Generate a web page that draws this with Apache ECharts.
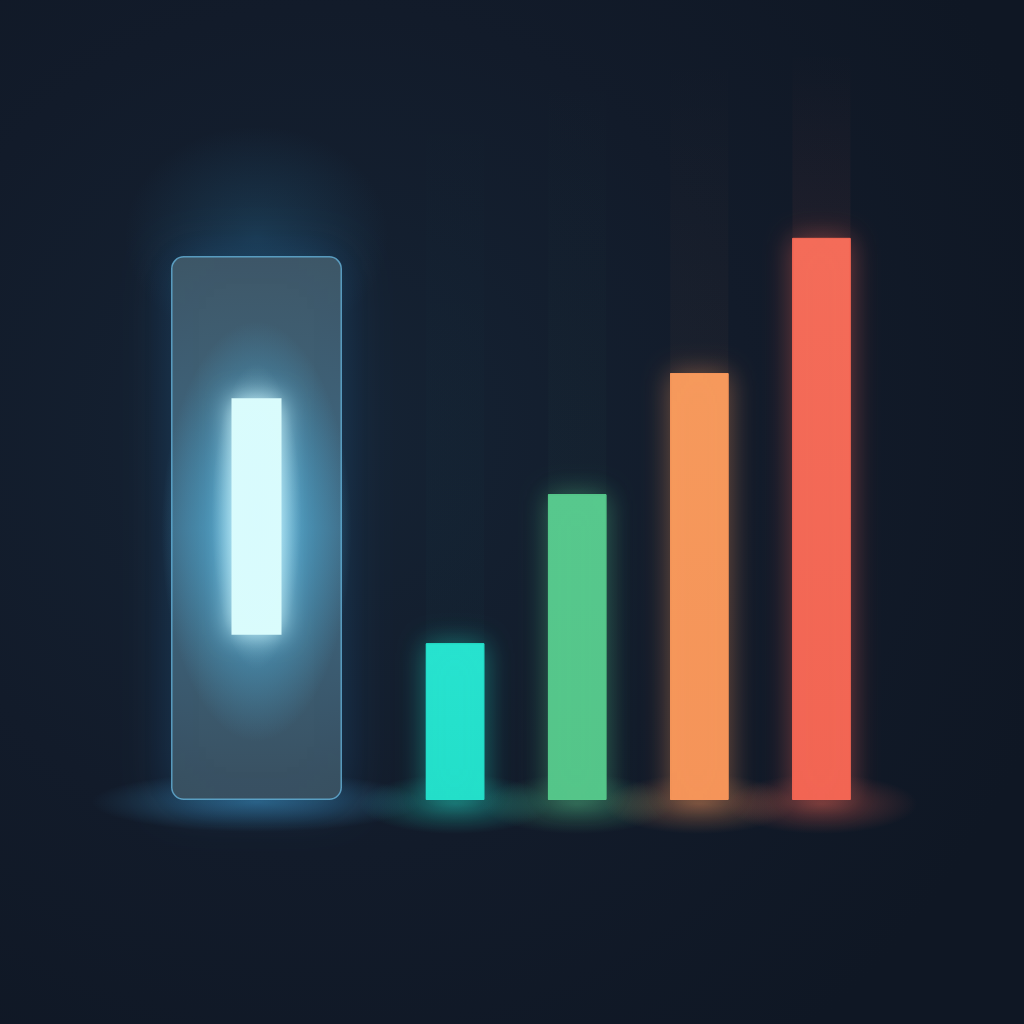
<!DOCTYPE html>
<html>
<head>
<meta charset="utf-8">
<title>glow bars</title>
<script src="https://cdn.jsdelivr.net/npm/echarts@6/dist/echarts.min.js"></script>
<style>
  html, body { margin: 0; padding: 0; background: #111a28; }
  #chart { width: 1024px; height: 1024px; }
</style>
</head>
<body>
<div id="chart"></div>
<script>
// data (axis 0..100, no labels shown)
var categories = ['A', 'B', 'C', 'D']
var values = [22.4, 43.7, 61, 80.3]
var barColors = ['#24dfca', '#55c68a', '#f5955a', '#f26654']
var topColors = ['#28e3d0', '#58c98e', '#f69a5d', '#f46d5a']
var glowColors = ['rgba(36,223,202,', 'rgba(85,198,138,', 'rgba(245,149,90,', 'rgba(242,102,84,']
var columnAlpha = [0.015, 0.025, 0.035, 0.06]

// the glass panel on the left and the lit bar floating inside it
var panelCategory = ['P']
var panelValue = [77.7]
var glowBase = [23.6]
var glowHeight = [33.8]

var chart = echarts.init(document.getElementById('chart'))

function hiddenCat(data, grid) {
  return {
    type: 'category', data: data, gridIndex: grid,
    axisLine: { show: false }, axisTick: { show: false }, axisLabel: { show: false }, splitLine: { show: false }
  }
}
function hiddenVal(grid) {
  return {
    type: 'value', min: 0, max: 100, gridIndex: grid,
    axisLine: { show: false }, axisTick: { show: false }, axisLabel: { show: false }, splitLine: { show: false }
  }
}

// one series per colour so each bar gets its own glow
var barSeries = categories.map(function (c, i) {
  return {
    type: 'bar',
    xAxisIndex: 0,
    yAxisIndex: 0,
    barWidth: 58.5,
    barGap: '-100%',
    z: 3,
    data: values.map(function (v, j) { return j === i ? v : '-' }),
    itemStyle: {
      color: new echarts.graphic.LinearGradient(0, 0, 0, 1, [
        { offset: 0, color: topColors[i] },
        { offset: 1, color: barColors[i] }
      ]),
      borderColor: glowColors[i] + '0.9)',
      borderWidth: 1,
      shadowBlur: 28,
      shadowColor: glowColors[i] + '0.45)'
    },
    silent: true
  }
})

chart.setOption({
  backgroundColor: new echarts.graphic.RadialGradient(0.32, 0.42, 0.75, [
    { offset: 0, color: '#152334' },
    { offset: 0.55, color: '#121b2a' },
    { offset: 1, color: '#0f1724' }
  ]),
  animation: false,
  grid: [
    { left: 394, right: 141.5, top: 100, bottom: 224 },
    { left: 171, width: 171, top: 100, bottom: 224 }
  ],
  xAxis: [hiddenCat(categories, 0), hiddenCat(panelCategory, 1), hiddenCat(panelCategory, 1)],
  yAxis: [hiddenVal(0), hiddenVal(1)],
  series: barSeries.concat([
    {
      type: 'bar',
      xAxisIndex: 1,
      yAxisIndex: 1,
      barWidth: '100%',
      z: 2,
      data: panelValue,
      itemStyle: {
        borderRadius: 12,
        color: new echarts.graphic.LinearGradient(0, 0, 0, 1, [
          { offset: 0, color: 'rgba(64,88,104,0.95)' },
          { offset: 0.5, color: 'rgba(66,110,135,0.95)' },
          { offset: 1, color: 'rgba(58,80,96,0.95)' }
        ]),
        borderColor: 'rgba(105,185,225,0.75)',
        borderWidth: 1.5,
        shadowBlur: 50,
        shadowColor: 'rgba(50,140,200,0.3)'
      },
      silent: true
    },
    {
      type: 'bar',
      xAxisIndex: 2,
      yAxisIndex: 1,
      stack: 'lit',
      barWidth: 50,
      z: 5,
      data: glowBase,
      itemStyle: { color: 'rgba(0,0,0,0)' },
      silent: true
    },
    {
      type: 'bar',
      xAxisIndex: 2,
      yAxisIndex: 1,
      stack: 'lit',
      barWidth: 50,
      z: 5,
      data: glowHeight,
      itemStyle: {
        color: '#dafcfc',
        shadowBlur: 24,
        shadowColor: 'rgba(205,248,255,1)'
      },
      silent: true
    }
  ])
})

// soft glows placed from the axes, not by hand
function softGlow(x, y, r, sx, sy, rgb, a, z) {
  return {
    type: 'circle', z: z, silent: true,
    x: x, y: y, scaleX: sx, scaleY: sy,
    shape: { cx: 0, cy: 0, r: r },
    style: {
      fill: new echarts.graphic.RadialGradient(0.5, 0.5, 0.5, [
        { offset: 0, color: rgb + a + ')' },
        { offset: 0.5, color: rgb + (a * 0.5) + ')' },
        { offset: 1, color: rgb + '0)' }
      ])
    }
  }
}

var deco = []
categories.forEach(function (c, i) {
  var b = chart.convertToPixel({ xAxisIndex: 0, yAxisIndex: 0 }, [i, 0])
  var t = chart.convertToPixel({ xAxisIndex: 0, yAxisIndex: 0 }, [i, values[i]])
  var top = chart.convertToPixel({ xAxisIndex: 0, yAxisIndex: 0 }, [i, 100])
  // floor haze
  deco.push(softGlow(b[0], b[1] + 4, 30, 3.2, 1, glowColors[i], 0.35, 1))
  // faint light column above each bar
  deco.push({
    type: 'rect', z: 1, silent: true,
    shape: { x: t[0] - 29, y: top[1] - 50, width: 58, height: t[1] - top[1] + 50 },
    style: {
      fill: new echarts.graphic.LinearGradient(0, 0, 0, 1, [
        { offset: 0, color: glowColors[i] + '0)' },
        { offset: 1, color: glowColors[i] + columnAlpha[i] + ')' }
      ])
    }
  })
})
var pb = chart.convertToPixel({ xAxisIndex: 1, yAxisIndex: 1 }, [0, 0])
var pt = chart.convertToPixel({ xAxisIndex: 1, yAxisIndex: 1 }, [0, panelValue[0]])
var lc = chart.convertToPixel({ xAxisIndex: 2, yAxisIndex: 1 }, [0, glowBase[0] + glowHeight[0] / 2])
deco.push(softGlow(pb[0], pb[1] + 2, 30, 5.5, 1, 'rgba(70,170,225,', 0.45, 1))
deco.push(softGlow(pt[0], pt[1] - 20, 110, 1.2, 1, 'rgba(40,110,150,', 0.3, 1))
// blue bloom inside the glass around the lit bar
deco.push(softGlow(lc[0], lc[1] + 15, 100, 0.95, 2.1, 'rgba(82,182,226,', 1, 4))
// soft white halo over the lit bar edges
deco.push(softGlow(lc[0], lc[1], 45, 1, 3.4, 'rgba(215,250,255,', 0.55, 6))
chart.setOption({ graphic: deco })
</script>
</body>
</html>
